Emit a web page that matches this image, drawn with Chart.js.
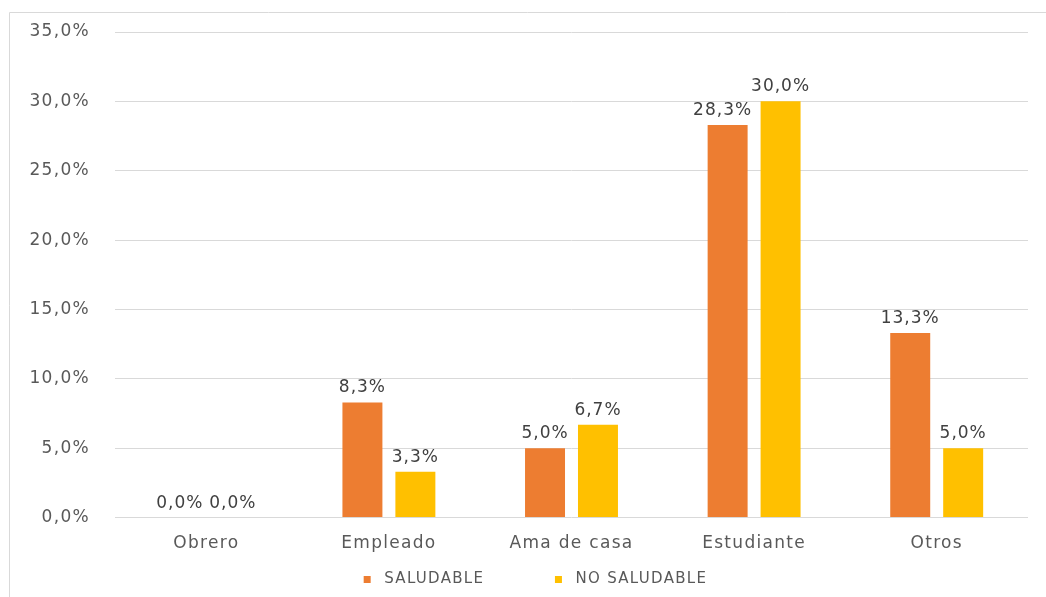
<!DOCTYPE html>
<html>
<head>
<meta charset="utf-8">
<script src="https://cdn.jsdelivr.net/npm/chart.js@4"></script>
<style>
  html, body { margin: 0; padding: 0; background: #fff; }
  #wrap { width: 1046px; height: 597px; position: relative; }
</style>
</head>
<body>
<div id="wrap"><canvas id="chart" width="1046" height="597"></canvas></div>
<script>
const categories = ['Obrero', 'Empleado', 'Ama de casa', 'Estudiante', 'Otros'];
const saludable = [0.0, 8.3, 5.0, 28.3, 13.3];
const noSaludable = [0.0, 3.3, 6.7, 30.0, 5.0];
const yTicks = [0, 5, 10, 15, 20, 25, 30, 35];

const fmt = v => v.toFixed(1).replace('.', ',') + '%';
const FONT = '"DejaVu Sans", sans-serif';

const ctx = document.getElementById('chart').getContext('2d');
ctx.letterSpacing = '1.3px';

// frame like the office chart border
const framePlugin = {
    id: 'frame',
    beforeDraw(chart) {
        const c = chart.ctx;
        c.letterSpacing = '1.3px';
        c.save();
        c.strokeStyle = '#d9d9d9';
        c.lineWidth = 1;
        c.beginPath();
        c.moveTo(9.5, 600);
        c.lineTo(9.5, 12.5);
        c.lineTo(1046, 12.5);
        c.stroke();
        c.restore();
    }
};

// value labels above the bars
const labelPlugin = {
    id: 'valueLabels',
    afterDatasetsDraw(chart) {
        const c = chart.ctx;
        c.save();
        c.font = '17px ' + FONT;
        c.letterSpacing = '1px';
        c.fillStyle = '#404040';
        c.textAlign = 'center';
        c.textBaseline = 'bottom';
        chart.data.datasets.forEach((ds, i) => {
            chart.getDatasetMeta(i).data.forEach((bar, j) => {
                let x = bar.x;
                if (j === 3 && i === 0) x -= 5;
                c.fillText(fmt(ds.data[j]), x, bar.y - 6);
            });
        });
        c.restore();
    }
};

new Chart(ctx, {
    type: 'bar',
    data: {
        labels: categories,
        datasets: [
            {
                label: 'SALUDABLE',
                data: saludable,
                backgroundColor: '#ed7d31',
                categoryPercentage: 0.58,
                barPercentage: 0.755
            },
            {
                label: 'NO SALUDABLE',
                data: noSaludable,
                backgroundColor: '#ffc000',
                categoryPercentage: 0.58,
                barPercentage: 0.755
            }
        ]
    },
    options: {
        responsive: false,
        animation: false,
        layout: { padding: { top: 32, right: 18, left: 0, bottom: 0 } },
        scales: {
            x: {
                grid: { display: false },
                border: { display: false },
                ticks: {
                    color: '#595959',
                    font: { family: FONT, size: 17 },
                    padding: 8
                }
            },
            y: {
                min: 0,
                max: 35,
                afterBuildTicks(scale) {
                    scale.ticks = yTicks.map(v => ({ value: v }));
                },
                afterFit(scale) { scale.width = 115; },
                grid: { color: '#d9d9d9', drawTicks: true, tickLength: 25, tickColor: 'rgba(0,0,0,0)' },
                border: { display: false },
                ticks: {
                    color: '#595959',
                    font: { family: FONT, size: 17 },
                    padding: 0,
                    callback: v => fmt(v)
                }
            }
        },
        plugins: {
            legend: {
                position: 'bottom',
                labels: {
                    boxWidth: 7,
                    boxHeight: 7,
                    color: '#595959',
                    font: { family: FONT, size: 15 },
                    padding: 10,
                    generateLabels(chart) {
                        const items = Chart.defaults.plugins.legend.labels.generateLabels(chart);
                        items.forEach((it, i) => {
                            it.text = ' ' + it.text + (i === 0 ? '          ' : '');
                        });
                        return items;
                    }
                }
            },
            tooltip: { enabled: false }
        }
    },
    plugins: [framePlugin, labelPlugin]
});
</script>
</body>
</html>
